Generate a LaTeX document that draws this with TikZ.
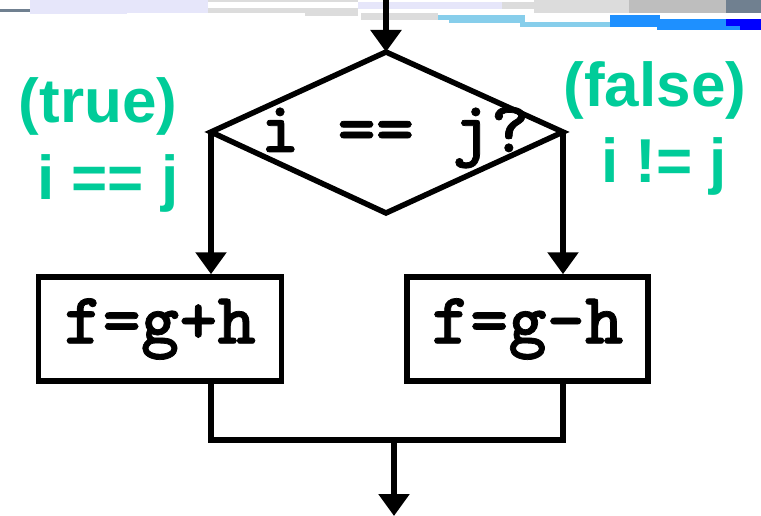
\documentclass[tikz,border=0pt]{standalone}
\usepackage{fontspec}
\setmainfont{Liberation Sans}
\newfontfamily\codefont{lmmonolt10-bold}[Extension=.otf,FakeBold=1.0]
\usetikzlibrary{arrows.meta}
\definecolor{lblgreen}{RGB}{0,204,153}
\definecolor{slate}{RGB}{112,128,144}
\definecolor{lav}{RGB}{230,230,250}
\definecolor{lgray}{RGB}{220,220,220}
\definecolor{silv}{RGB}{190,190,190}
\definecolor{sky}{RGB}{135,206,235}
\definecolor{dodger}{RGB}{30,144,255}
\definecolor{pureblue}{RGB}{0,0,255}
\tikzset{
  flow/.style={line width=5.5pt},
  arr/.style={flow,-{Triangle[length=22pt,width=30pt]}},
  codebox/.style={draw,line width=5.5pt,minimum height=104pt,inner sep=0pt,
    font=\codefont\fontsize{73}{73}\selectfont},
  codetxt/.style={inner sep=0pt,anchor=base,font=\codefont\fontsize{73}{73}\selectfont},
  lbl/.style={inner sep=0pt,anchor=base,text=lblgreen,font=\bfseries\fontsize{62}{62}\selectfont}
}
\begin{document}
\begin{tikzpicture}[x=1pt,y=-1pt]
\useasboundingbox (0,0) rectangle (761,516);
% decorative header strip
\fill[lav] (30,0) rectangle (208,13);
\fill[lav] (30,13) rectangle (127,14);
\fill[slate] (0,9) rectangle (30,12);
\fill[lgray] (208,0) rectangle (358,2);
\fill[lgray] (208,8) rectangle (358,13);
\fill[lgray] (305,13) rectangle (358,16);
\fill[lav] (358,2) rectangle (502,9);
\fill[lgray] (502,2) rectangle (534,9);
\fill[lgray] (534,0) rectangle (629,13);
\fill[silv] (629,0) rectangle (726,13);
\fill[slate] (726,0) rectangle (761,13);
\fill[lgray] (361,13) rectangle (438,20);
\fill[sky] (438,15) rectangle (525,20);
\fill[sky] (449,20) rectangle (525,23);
\fill[sky] (520,22) rectangle (610,27);
\fill[dodger] (610,15) rectangle (660,27);
\fill[dodger] (657,19) rectangle (740,30);
\fill[pureblue] (726,19) rectangle (761,26);
\fill[pureblue] (740,19) rectangle (761,30);
% diamond
\coordinate (dt) at (386,52);
\coordinate (dl) at (211,132);
\coordinate (dr) at (563,132);
\coordinate (db) at (386,213);
\coordinate (start) at (386,0);
\draw[flow,line join=miter] (dt) -- (dr) -- (db) -- (dl) -- cycle;
\node[codetxt] (cond) at (395,152) {i == j?};
\draw[arr] (start) -- (dt);
% boxes
\node[codebox,minimum width=243pt] (L) at (160,329) {\raisebox{-7pt}{f=g+h}};
\node[codebox,minimum width=241pt] (R) at (527.5,329) {\raisebox{-7pt}{f=g-h}};
\draw[arr] (dl) -- (dl |- L.north);
\draw[arr] (dr) -- (dr |- R.north);
% merge
\coordinate (m1) at (211,440);
\coordinate (m2) at (563,440);
\coordinate (mc) at (394,440);
\coordinate (out) at (394,516);
\draw[flow,line cap=rect] (dl |- L.south) -- (m1) -- (m2) -- (dr |- R.south);
\draw[arr] (mc) -- (out);
% labels
\node[lbl] (t1) at (98,123) {(true)};
\node[lbl] (t2) at (108,200) {i == j};
\node[lbl] (f1) at (655,107) {(false)};
\node[lbl] (f2) at (664,183) {i != j};
\end{tikzpicture}
\end{document}
